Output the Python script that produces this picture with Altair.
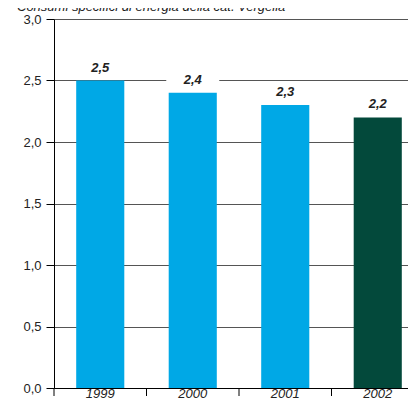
import altair as alt
import pandas as pd

years = ["1999", "2000", "2001", "2002"]
values = [2.5, 2.4, 2.3, 2.2]
labels = ["2,5", "2,4", "2,3", "2,2"]
bar_colors = ["#00A8E6", "#00A8E6", "#00A8E6", "#03493B"]
y_ticks = [0, 0.5, 1, 1.5, 2, 2.5, 3]
title_text = "Consumi specifici di energia della cat. Vergella"

df = pd.DataFrame({"year": years, "value": values, "label": labels, "color": bar_colors})

FONT = "Liberation Sans"
W, H = 354, 369

xscale = alt.Scale(domain=years, range=[0, 370], paddingInner=0, paddingOuter=0)
yscale = alt.Scale(domain=[0, 3], nice=False)

x_axis = alt.Axis(title=None, ticks=False, labelPadding=-1, labelFontStyle="italic",
                  labelFontSize=13, labelColor="#222", labelFont=FONT,
                  domainColor="#000", domainWidth=1, labelAngle=0, grid=False)
y_axis = alt.Axis(values=y_ticks, labelExpr="replace(format(datum.value, '.1f'), '.', ',')",
                  title=None, grid=True, gridColor="#555", gridWidth=1, tickSize=8,
                  tickColor="#000", domainColor="#000", labelPadding=5,
                  labelFontSize=13, labelFont=FONT, labelColor="#222")

x_enc = alt.X("year:N", scale=xscale, sort=years, axis=x_axis)
y_enc = alt.Y("value:Q", scale=yscale, axis=y_axis)

base = alt.Chart(df)

bars = base.mark_bar(width=alt.RelativeBandSize(0.52)).encode(
    x=x_enc, y=y_enc, color=alt.Color("color:N", scale=None)
)

ticks = base.mark_rule(color="#000", strokeWidth=1).encode(
    x=alt.X("year:N", scale=xscale, sort=years, bandPosition=0, axis=x_axis),
    y=alt.value(H), y2=alt.value(H + 8)
)

boxes = base.mark_point(shape="M-1,-0.3H1V0.3H-1Z", size=2809, filled=True,
                        color="white", opacity=1, strokeWidth=0, yOffset=-14).encode(
    x=x_enc, y=y_enc
)

texts = base.mark_text(dy=-9, baseline="alphabetic", fontStyle="italic", fontWeight="bold",
                       fontSize=13, font=FONT, color="#222").encode(
    x=x_enc, y=y_enc, text="label:N"
)

title = alt.Chart(pd.DataFrame({"t": [title_text]})).mark_text(
    align="left", baseline="alphabetic", fontStyle="italic", fontSize=13, font=FONT, color="#222"
).encode(x=alt.value(-37), y=alt.value(-8), text="t:N")

chart = alt.layer(bars, ticks, boxes, texts, title).properties(
    width=W, height=H,
    autosize=alt.AutoSizeParams(type="none"),
    padding={"left": 46, "top": 11, "right": 0, "bottom": 11},
).configure_view(stroke=None)

chart.save("out.html", embed_options={"renderer": "svg", "actions": False})
